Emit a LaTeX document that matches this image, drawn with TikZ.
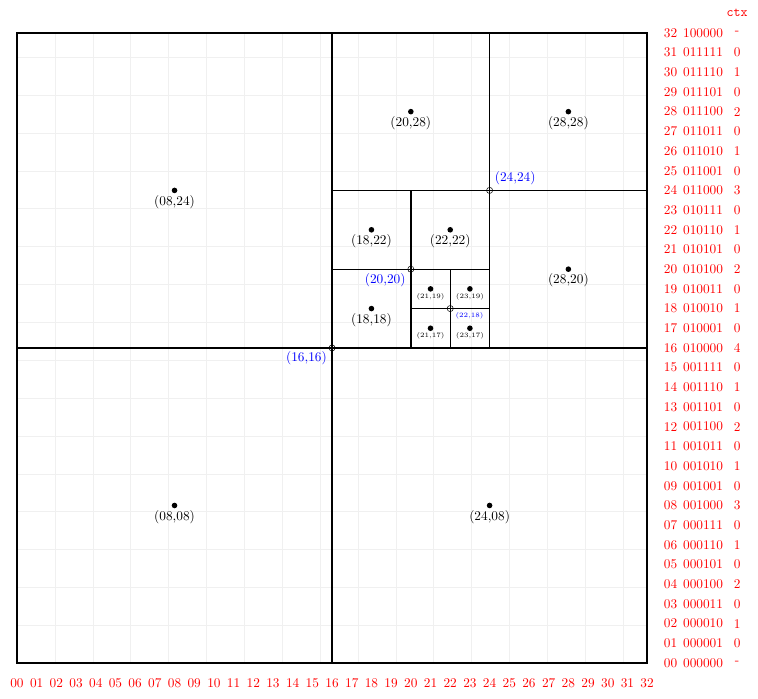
\documentclass[tikz,border=0pt]{standalone}
\usetikzlibrary{positioning}
\tikzset{
  dot/.style={circle,fill=black,inner sep=0pt,minimum size=4.2pt},
  split/.style={circle,draw=black,inner sep=0pt,minimum size=4.6pt},
  lbl/.style={text=red,inner sep=1pt},
  corner/.style={text=blue,inner sep=1pt},
  cut/.style={line width=1pt}
}
\begin{document}
\begin{tikzpicture}[x=0.52cm,y=0.52cm]
        \useasboundingbox (-0.863,-1.78) rectangle (37.63,33.67);
        % light grid
        \draw[gray!12,very thin] (0,0) grid (32,32);
        % the outer square
        \draw[cut] (0,0) rectangle (32,32);

        % draw the splits
        \draw[cut] (16,0) -- (16,32);
        \draw[cut] (0,16) -- (32,16);
        \draw[cut] (24,16) -- (24,32);
        \draw[cut] (16,24) -- (32,24);
        \draw[cut] (20,16) -- (20,24);
        \draw[cut] (16,20) -- (24,20);
        \draw[cut] (22,16) -- (22,20);
        \draw[cut] (20,18) -- (24,18);

        % draw the cell centres
        \foreach \x/\y/\t in {
            8/24/{(08,24)},
            8/8/{(08,08)},
            24/8/{(24,08)},
            20/28/{(20,28)},
            28/28/{(28,28)},
            28/20/{(28,20)},
            18/22/{(18,22)},
            22/22/{(22,22)},
            18/18/{(18,18)}}
                \node[dot] (p\x-\y) at (\x,\y) {} node[below=0pt of p\x-\y,inner sep=1pt] (t\x-\y) {\t};
        \foreach \x/\y/\t in {
            21/19/{(21,19)},
            23/19/{(23,19)},
            21/17/{(21,17)},
            23/17/{(23,17)}}
                \node[dot] (p\x-\y) at (\x,\y) {} node[below=0pt of p\x-\y,inner sep=1pt,font=\tiny] (t\x-\y) {\t};

        % draw the split points
        \node[split] (c16-16) at (16,16) {};
        \node[split] (c24-24) at (24,24) {};
        \node[split] (c20-20) at (20,20) {};
        \node[split] (c22-18) at (22,18) {};
        \node[corner,below left=0pt and 1pt of c16-16] (b16-16) {(16,16)};
        \node[corner,above right=1pt and 1pt of c24-24] (b24-24) {(24,24)};
        \node[corner,below left=0pt and 1pt of c20-20] (b20-20) {(20,20)};
        \node[corner,font=\tiny,below right=0pt and 1pt of c22-18] (b22-18) {(22,18)};

        % draw the column numbers
        \foreach \x/\xtext in {0/00,1/01,2/02,3/03,4/04,5/05,6/06,7/07,8/08,9/09,
            10/10,11/11,12/12,13/13,14/14,15/15,16/16,17/17,18/18,19/19,20/20,
            21/21,22/22,23/23,24/24,25/25,26/26,27/27,28/28,29/29,30/30,31/31,32/32}
                \node[lbl] (x\x) at (\x,-1.02) {\xtext};

        % draw the row numbers, codes and contexts
        \node[lbl,font=\ttfamily] (ctx) at (36.57,33.0) {ctx};
        \foreach \y/\ytext/\b/\c in {
            32/32/100000/-,
            31/31/011111/0,
            30/30/011110/1,
            29/29/011101/0,
            28/28/011100/2,
            27/27/011011/0,
            26/26/011010/1,
            25/25/011001/0,
            24/24/011000/3,
            23/23/010111/0,
            22/22/010110/1,
            21/21/010101/0,
            20/20/010100/2,
            19/19/010011/0,
            18/18/010010/1,
            17/17/010001/0,
            16/16/010000/4,
            15/15/001111/0,
            14/14/001110/1,
            13/13/001101/0,
            12/12/001100/2,
            11/11/001011/0,
            10/10/001010/1,
            9/09/001001/0,
            8/08/001000/3,
            7/07/000111/0,
            6/06/000110/1,
            5/05/000101/0,
            4/04/000100/2,
            3/03/000011/0,
            2/02/000010/1,
            1/01/000001/0,
            0/00/000000/-}
                \node[lbl] (y\y) at (33.19,\y) {\ytext}
                      node[lbl] (b\y) at (34.84,\y) {\b}
                      node[lbl] (k\y) at (36.57,\y) {\c};
\end{tikzpicture}
\end{document}
